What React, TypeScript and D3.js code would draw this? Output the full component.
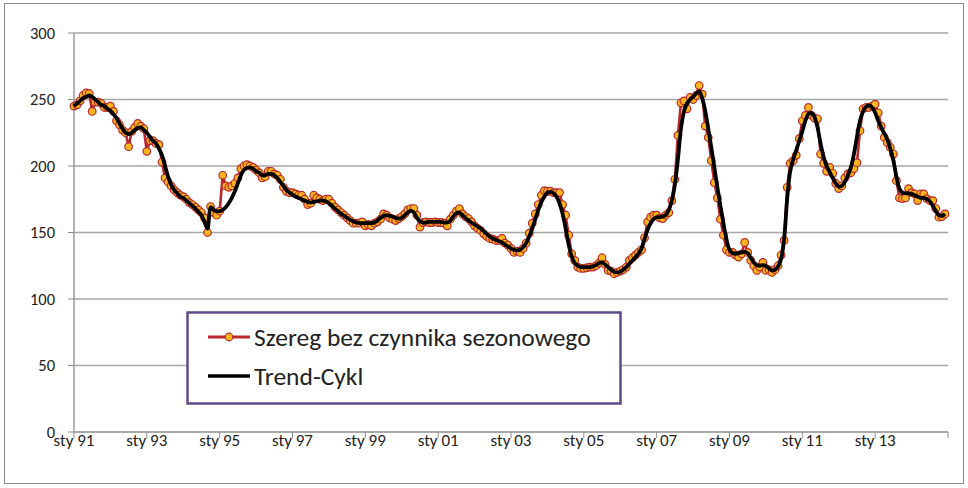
import React from "react";
import * as d3 from "d3";

const monthsCount = 288;

const tickLabels = ["sty 91", "sty 93", "sty 95", "sty 97", "sty 99", "sty 01", "sty 03", "sty 05", "sty 07", "sty 09", "sty 11", "sty 13"];
const yTicks = [0, 50, 100, 150, 200, 250, 300];

const seriesNames = ["Szereg bez czynnika sezonowego", "Trend-Cykl"];

// Seasonally adjusted series (monthly, Jan 1991 – Dec 2014)
const saValues = [
  245, 246, 249, 253, 255, 254.5, 241, 248, 248, 247, 244, 244,
  245, 241, 234, 231, 227, 225, 214.5, 226, 229, 232, 230, 228,
  211, 219, 219, 217, 216, 203, 191, 188, 185, 182, 180, 178,
  177, 175, 172.5, 171, 169, 167, 165, 161, 150, 169.5, 165, 163,
  166, 193, 185, 184, 185, 187, 191, 198, 200, 201, 200, 199,
  197, 195, 191, 192, 196, 196, 194, 193, 190, 184, 181, 180,
  180, 179, 178, 178, 175, 171, 172, 178, 176, 175, 174, 175,
  175, 172, 169, 167, 165, 163, 161, 159, 157, 157, 157, 158,
  155, 156, 155, 157, 158, 160, 164, 163, 161, 160, 159, 160.5,
  162, 164, 167, 168, 168, 163, 154, 157.5, 158, 157.5, 157.5, 158,
  157.5, 157.5, 157, 155, 160, 163, 166, 168, 164, 162, 160.5, 158,
  155, 153, 151.5, 149, 147, 145.5, 145, 144, 144, 145.5, 142, 140.5,
  138, 135, 136, 135, 138, 142, 149.5, 157, 164, 171, 178, 181.5,
  181, 181, 180, 180, 180, 171, 163, 148, 134, 129, 124, 123,
  123, 123.5, 124, 124, 125, 127, 131, 126, 121.5, 121, 119, 120,
  121, 122, 124, 129, 131, 133, 135, 137, 146, 158, 161.5, 163,
  163, 161, 160.5, 163, 165, 174, 190, 223, 247.5, 249, 243, 251.5,
  250, 253, 260.5, 254, 230, 221.5, 204, 187.5, 176, 160, 148, 137,
  135, 135, 133, 131.5, 134, 142.5, 135, 129, 125, 121.5, 124, 127.5,
  121.5, 122, 120, 122, 125, 133, 144, 184, 202, 204, 208, 220.5,
  234, 238, 244, 238, 236, 235.5, 209, 202, 196, 199, 194.5, 187,
  183, 185, 191, 194, 195, 198, 202.5, 226.5, 243, 244, 244, 245,
  246.5, 240, 230, 221.5, 217.5, 214, 209, 189, 176, 175.5, 176, 183,
  180, 179, 174, 179, 179, 175.5, 174, 174, 168, 161.5, 162, 164,
];

// Trend-cycle series
const trendValues = [
  245, 247, 249, 251, 252, 253, 252, 250, 248, 246, 245, 243,
  241.5, 239, 236, 232, 228, 225, 224, 225, 227, 228.5, 229, 227,
  225, 222, 219, 217, 213, 208, 200, 192, 186, 182, 179.5, 177,
  176, 174, 172, 170, 168, 165.5, 163, 158, 153, 169, 167, 166,
  166, 167, 169, 172, 176, 181, 187, 193, 197, 198.5, 199, 198,
  196, 195, 193, 193, 194, 194, 193, 191, 188, 185, 182, 180,
  178.5, 177, 176, 175, 174, 173, 172.5, 173, 173.5, 174, 174, 173.5,
  172, 170, 168, 166, 164, 162.5, 161, 159.5, 158.5, 157.5, 157, 157,
  157, 157, 157, 157.5, 159, 161, 162.5, 163, 162.5, 162, 161, 160.5,
  161, 163, 165, 166.5, 165, 161, 158.5, 157.5, 157.5, 158, 158, 158,
  158, 158, 157.5, 157.5, 159, 162, 164.5, 165, 163, 161, 159, 157.5,
  156, 154.5, 153, 151, 149, 147, 145.5, 144.5, 143.5, 142.5, 141, 139.5,
  138, 137, 136.5, 137, 139, 142, 147, 153, 160, 167, 173, 177,
  180, 180.5, 179.5, 177, 172, 164, 153, 141, 132, 127, 125, 124,
  124, 124, 124, 124.5, 125.5, 127, 127.5, 126, 124, 122, 120.5, 120,
  120.5, 122, 124, 126.5, 129, 131.5, 134, 138, 145, 152, 157, 160,
  161.5, 161.5, 162, 163, 167, 174, 186, 205, 228, 241, 247, 250,
  252, 254.5, 256, 251, 241.5, 228, 214, 199, 184, 170, 157, 145,
  137, 134.5, 134, 134.5, 135, 135.5, 134.5, 131, 127.5, 125.5, 125, 125.5,
  125, 123, 121.5, 122, 124.5, 130, 145, 175, 196, 205, 212, 219,
  226, 234, 239, 240, 237, 229, 217, 207, 200, 195.5, 191, 187,
  184.5, 185, 188, 193, 199, 209, 222, 234, 241, 244.5, 245.5, 244,
  240, 234, 229, 224.5, 220, 213, 204, 192, 183, 180, 179.5, 179.5,
  179, 178, 177, 176, 176, 175, 173.5, 170, 166, 163, 162.5, 164,
];

const W = 968;
const H = 488;
const FONT = "Carlito, Lato, 'Liberation Sans', sans-serif";

export default function App() {
  const x = d3.scaleLinear().domain([0, monthsCount]).range([74, 948]);
  const y = d3.scaleLinear().domain([0, 300]).range([432, 33]);

  const saLine = d3
    .line<number>()
    .x((_, i) => x(i))
    .y((d) => y(d));
  const trendLine = d3
    .line<number>()
    .x((_, i) => x(i))
    .y((d) => y(d))
    .curve(d3.curveCatmullRom.alpha(0.5));

  const tickIdx = tickLabels.map((_, k) => k * 24);
  const allTicks = d3.range(0, monthsCount + 1, 24);

  const red = "#b8282d";
  const gold = "#f9b51c";

  return (
    <svg
      width={W}
      height={H}
      style={{ position: "absolute", left: 0, top: 0, background: "#fff" }}
      fontFamily={FONT}
    >
      <rect x={4.5} y={3.5} width={959} height={480} fill="#fff" stroke="#8c8c8c" strokeWidth={1} />
      {yTicks.map((t) => (
        <g key={t}>
          {t > 0 && (
            <line x1={74} x2={948} y1={y(t)} y2={y(t)} stroke="#a6a6a6" strokeWidth={1.6} />
          )}
          <line x1={68} x2={74} y1={y(t)} y2={y(t)} stroke="#8c8c8c" strokeWidth={1} />
          <text x={55} y={y(t)} dy="0.36em" textAnchor="end" fontSize={16.5} fill="#222">
            {t}
          </text>
        </g>
      ))}
      <line x1={74} x2={74} y1={y(300)} y2={y(0)} stroke="#8c8c8c" strokeWidth={1.3} />
      <line x1={74} x2={948} y1={y(0)} y2={y(0)} stroke="#8c8c8c" strokeWidth={1.6} />
      {allTicks.map((i) => (
        <line key={i} x1={x(i)} x2={x(i)} y1={y(0)} y2={y(0) + 6} stroke="#8c8c8c" strokeWidth={1} />
      ))}
      {tickLabels.map((lab, k) => (
        <text key={lab} x={x(tickIdx[k])} y={446} textAnchor="middle" fontSize={17} fill="#222">
          {lab}
        </text>
      ))}

      <path d={saLine(saValues) || ""} fill="none" stroke={red} strokeWidth={2.6} strokeLinejoin="round" />
      {saValues.map((v, i) => (
        <circle key={i} cx={x(i)} cy={y(v)} r={3.8} fill={gold} stroke={red} strokeWidth={1.2} />
      ))}
      <path d={trendLine(trendValues) || ""} fill="none" stroke="#000" strokeWidth={3.8} strokeLinejoin="round" />

      <g>
        <rect x={187.5} y={312.5} width={433} height={91} fill="#fff" stroke="#5f4b8b" strokeWidth={2.5} />
        <line x1={208} x2={250} y1={337} y2={337} stroke={red} strokeWidth={3} />
        <circle cx={229} cy={337} r={3.8} fill={gold} stroke={red} strokeWidth={1.2} />
        <text x={254} y={337} dy="0.35em" fontSize={25.5} fill="#222">
          {seriesNames[0]}
        </text>
        <line x1={208} x2={250} y1={376} y2={376} stroke="#000" strokeWidth={3.5} />
        <text x={254} y={376} dy="0.35em" fontSize={25.5} fill="#222">
          {seriesNames[1]}
        </text>
      </g>
    </svg>
  );
}
